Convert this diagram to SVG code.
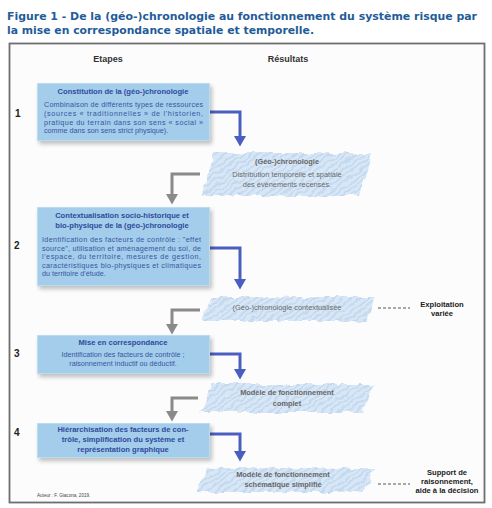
<svg xmlns="http://www.w3.org/2000/svg" width="492" height="508" viewBox="0 0 492 508">
<style>
.ttl{font-family:"DejaVu Sans",Verdana,sans-serif;font-weight:bold;font-size:11px;fill:#1f5c99}
.hdr{font-family:"Liberation Sans",Arial,sans-serif;font-weight:bold;font-size:9px;fill:#333}
.num{font-family:"Liberation Sans",Arial,sans-serif;font-weight:bold;font-size:10px;fill:#222}
.box{fill:#a3cdea;stroke:#bcdcf2;stroke-width:1}
.bt{font-family:"Liberation Sans",Arial,sans-serif;font-weight:bold;font-size:7.6px;fill:#2f4b9c;text-anchor:middle}
.bb{font-family:"Liberation Sans",Arial,sans-serif;font-size:7.2px;fill:#3a55a5}
.bbc{font-family:"Liberation Sans",Arial,sans-serif;font-size:7.2px;fill:#3a55a5;text-anchor:middle}
.res{fill:url(#hatch);filter:url(#rough)}
.rt{font-family:"Liberation Sans",Arial,sans-serif;font-weight:bold;font-size:7.4px;fill:#666;text-anchor:middle}
.rb{font-family:"Liberation Sans",Arial,sans-serif;font-size:7.4px;fill:#6a6a6a;text-anchor:middle}
.side{font-family:"Liberation Sans",Arial,sans-serif;font-weight:bold;font-size:7.6px;fill:#222;text-anchor:middle}
.blue{fill:none;stroke:#4a5ec0;stroke-width:3;marker-end:url(#ab)}
.gray{fill:none;stroke:#8a8a8a;stroke-width:3;marker-end:url(#ag)}
.dash{stroke:#555;stroke-width:1;stroke-dasharray:3 2}
</style>
<defs>
<pattern id="hatch" width="5" height="5" patternUnits="userSpaceOnUse" patternTransform="rotate(-35)">
<rect width="5" height="5" fill="#d8e7f6"/>
<rect width="5" height="2" fill="#c4d9ef"/>
</pattern>
<filter id="rough" x="-10%" y="-30%" width="120%" height="160%">
<feTurbulence type="fractalNoise" baseFrequency="0.1" numOctaves="2" seed="3"/>
<feDisplacementMap in="SourceGraphic" scale="7" xChannelSelector="R" yChannelSelector="G"/>
</filter>
<filter id="sh" x="-10%" y="-10%" width="130%" height="140%">
<feGaussianBlur in="SourceAlpha" stdDeviation="2"/>
<feOffset dx="2" dy="3"/>
<feComponentTransfer><feFuncA type="linear" slope="0.25"/></feComponentTransfer>
<feMerge><feMergeNode/><feMergeNode in="SourceGraphic"/></feMerge>
</filter>
<marker id="ab" markerWidth="5" markerHeight="4" refX="1" refY="2" orient="auto" markerUnits="strokeWidth">
<path d="M0,0 L3.5,2 L0,4 Z" fill="#4a5ec0"/>
</marker>
<marker id="ag" markerWidth="5" markerHeight="4" refX="1" refY="2" orient="auto" markerUnits="strokeWidth">
<path d="M0,0 L3.5,2 L0,4 Z" fill="#8a8a8a"/>
</marker>
</defs>
<rect width="492" height="508" fill="#fff"/>
<g id="title">
<text class="ttl" x="7" y="19.5" textLength="470" lengthAdjust="spacingAndGlyphs">Figure 1 - De la (géo-)chronologie au fonctionnement du système risque par</text>
<text class="ttl" x="7" y="34" textLength="307" lengthAdjust="spacingAndGlyphs">la mise en correspondance spatiale et temporelle.</text>
</g>
<rect x="9.5" y="43.5" width="475" height="459" fill="#fcfcfc" stroke="#6e6e6e" stroke-width="1.8"/>
<g id="headers">
<text class="hdr" x="108" y="62" text-anchor="middle">Etapes</text>
<text class="hdr" x="288" y="62" text-anchor="middle">Résultats</text>
<text class="num" x="15" y="117">1</text>
<text class="num" x="14" y="249">2</text>
<text class="num" x="14" y="357">3</text>
<text class="num" x="14" y="436">4</text>
</g>
<g id="connectors">
<path class="blue" d="M210 112 H240 V139"/>
<path class="gray" d="M200 174 H172 V197"/>
<path class="blue" d="M210 248 H240 V282"/>
<path class="gray" d="M200 310 H172 V327"/>
<path class="blue" d="M210 354 H240 V372"/>
<path class="gray" d="M198 398 H172 V414"/>
<path class="blue" d="M210 434 H240 V454"/>
<line class="dash" x1="378" y1="308" x2="410" y2="308"/>
<line class="dash" x1="378" y1="484" x2="410" y2="484"/>
</g>
<g id="step1">
<rect class="box" x="37.5" y="83.5" width="172" height="57" filter="url(#sh)"/>
<text class="bt" x="123" y="94">Constitution de la (géo-)chronologie</text>
<text class="bb" x="44" y="107" textLength="159" lengthAdjust="spacing">Combinaison de différents types de ressources</text>
<text class="bb" x="44" y="116" textLength="159" lengthAdjust="spacing">(sources « traditionnelles » de l'historien,</text>
<text class="bb" x="44" y="124.5" textLength="159" lengthAdjust="spacing">pratique du terrain dans son sens « social »</text>
<text class="bb" x="44" y="133">comme dans son sens strict physique).</text>
</g>
<g id="result1">
<path class="res" d="M214 153 L372 153 L360 196 L202 196 Z"/>
<text class="rt" x="287" y="164">(Géo-)chronologie</text>
<text class="rb" x="287" y="177">Distribution temporelle et spatiale</text>
<text class="rb" x="287" y="187">des événements recensés.</text>
</g>
<g id="step2">
<rect class="box" x="37.5" y="207.5" width="172" height="78" filter="url(#sh)"/>
<text class="bt" x="122" y="218">Contextualisation socio-historique et</text>
<text class="bt" x="122" y="228">bio-physique de la (géo-)chronologie</text>
<text class="bb" x="42" y="242" textLength="159" lengthAdjust="spacing">Identification des facteurs de contrôle : "effet</text>
<text class="bb" x="42" y="250.5" textLength="159" lengthAdjust="spacing">source", utilisation et aménagement du sol, de</text>
<text class="bb" x="42" y="259" textLength="159" lengthAdjust="spacing">l'espace, du territoire, mesures de gestion,</text>
<text class="bb" x="42" y="267.5" textLength="159" lengthAdjust="spacing">caractéristiques bio-physiques et climatiques</text>
<text class="bb" x="42" y="276">du territoire d'étude.</text>
</g>
<g id="result2">
<path class="res" d="M212 297 L376 297 L366 321 L202 321 Z"/>
<text class="rb" x="287" y="310">(Géo-)chronologie contextualisée</text>
</g>
<g id="exploitation">
<text class="side" x="442" y="307">Exploitation</text>
<text class="side" x="442" y="316">variée</text>
</g>
<g id="step3">
<rect class="box" x="37.5" y="335.5" width="172" height="38" filter="url(#sh)"/>
<text class="bt" x="123" y="345">Mise en correspondance</text>
<text class="bbc" x="123" y="357">Identification des facteurs de contrôle ;</text>
<text class="bbc" x="123" y="366">raisonnement inductif ou déductif.</text>
</g>
<g id="result3">
<path class="res" d="M212 384 L374 384 L362 412 L200 412 Z"/>
<text class="rt" x="287" y="395">Modèle de fonctionnement</text>
<text class="rt" x="287" y="406">complet</text>
</g>
<g id="step4">
<rect class="box" x="37.5" y="423.5" width="172" height="34" filter="url(#sh)"/>
<text class="bt" x="123" y="432">Hiérarchisation des facteurs de con-</text>
<text class="bt" x="123" y="442">trôle, simplification du système et</text>
<text class="bt" x="123" y="452">représentation graphique</text>
</g>
<g id="result4">
<path class="res" d="M208 468 L376 468 L364 492 L196 492 Z"/>
<text class="rt" x="283" y="477">Modèle de fonctionnement</text>
<text class="rt" x="283" y="487">schématique simplifié</text>
</g>
<g id="support">
<text class="side" x="447" y="475">Support de</text>
<text class="side" x="447" y="484">raisonnement,</text>
<text class="side" x="447" y="493">aide à la décision</text>
</g>
<g id="author">
<text x="37" y="497" font-family="Liberation Sans,Arial,sans-serif" font-size="4.6px" fill="#444">Auteur : F. Giacona, 2019.</text>
</g>
</svg>
